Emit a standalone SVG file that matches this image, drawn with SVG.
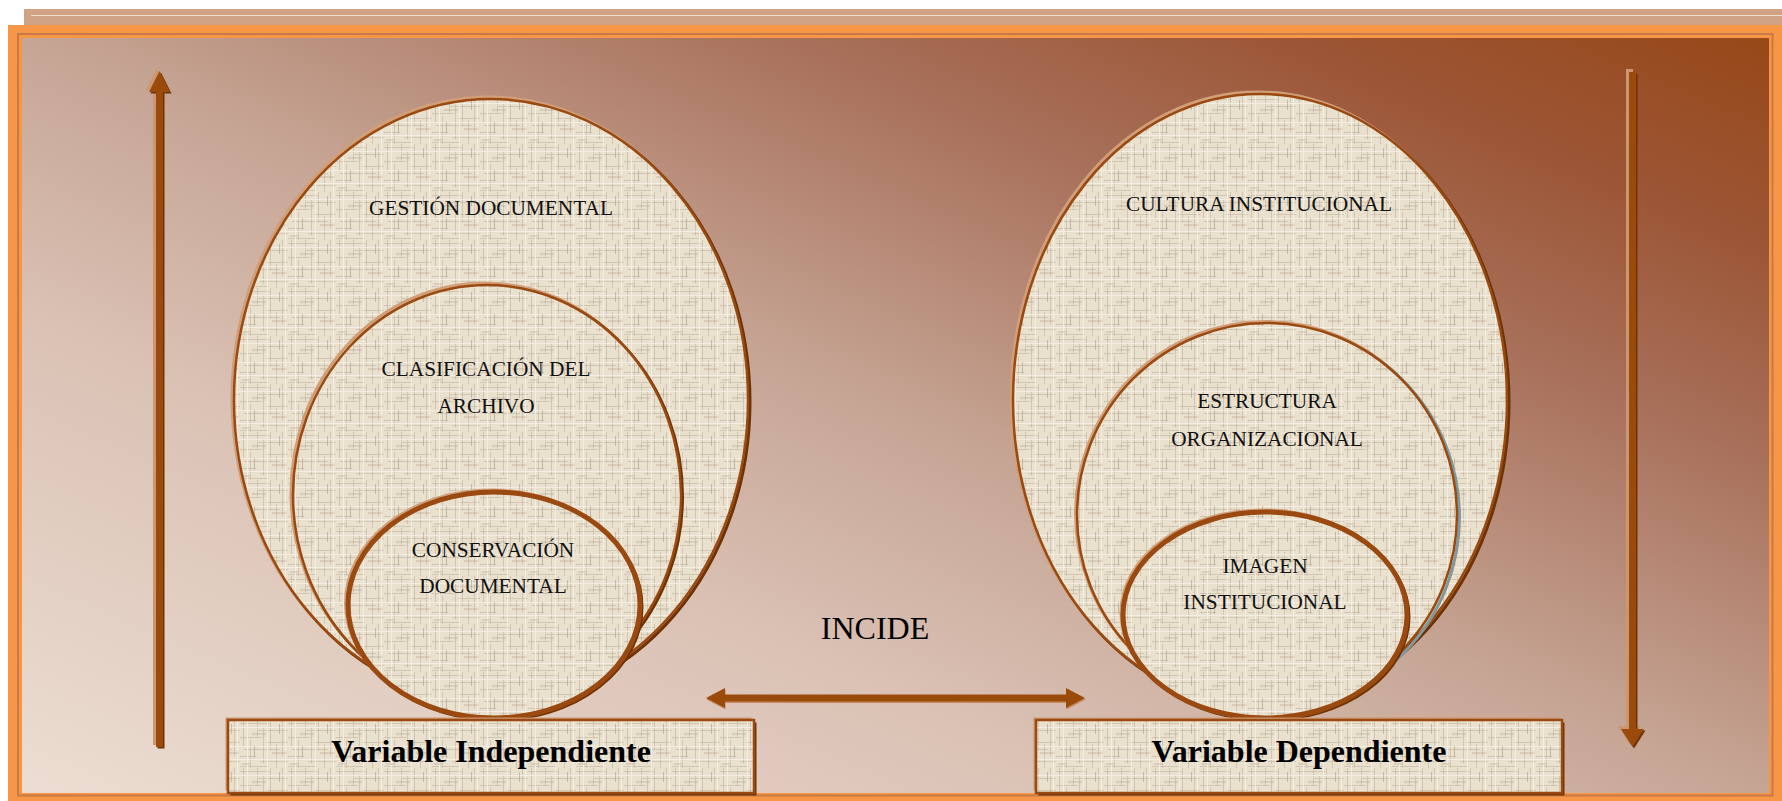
<svg xmlns="http://www.w3.org/2000/svg" xmlns:xlink="http://www.w3.org/1999/xlink" width="1782" height="801" viewBox="0 0 1782 801">
<style>
.lbl{font-family:"Liberation Serif","Times New Roman",serif;font-size:21.3px;fill:#111;text-anchor:middle}
.big{font-family:"Liberation Serif","Times New Roman",serif;font-size:32px;fill:#000;text-anchor:middle}
.bold{font-weight:bold}
.st{fill:url(#tex);stroke:#9A4A10;stroke-width:2.5}
.stk{fill:url(#tex);stroke:#9A4A10;stroke-width:5}
.hl{fill:none;stroke:#D29E78;stroke-width:3}
.sh{fill:none;stroke:#6E3204;stroke-width:3}
.arr{fill:#9A4A0B}
.arrl{fill:#CC9670}
.arrd{fill:#6E3305}
</style>
<defs>
<linearGradient id="bg" x1="0" y1="1" x2="1" y2="0">
<stop offset="0" stop-color="#ECDDD2"/>
<stop offset="0.32" stop-color="#DAC1B4"/>
<stop offset="0.5" stop-color="#C6A595"/>
<stop offset="0.72" stop-color="#A8705A"/>
<stop offset="0.86" stop-color="#9C5636"/>
<stop offset="1" stop-color="#974818"/>
</linearGradient>
<pattern id="tex" width="48" height="48" patternUnits="userSpaceOnUse">
<rect width="48" height="48" fill="#E9E0CD"/>
<path d="M0 3.5H30M18 10.5H48M0 17.5H22M26 22.5H48M4 29.5H40M0 36.5H16M20 41.5H48M0 46.5H28" stroke="#C4B9A2" stroke-width="1" opacity="0.65"/>
<path d="M3.5 0V26M10.5 20V48M17.5 0V18M23.5 8V44M30.5 0V30M36.5 24V48M42.5 0V36" stroke="#C4B9A2" stroke-width="1" opacity="0.65"/>
<path d="M0 7.5H48M0 26.5H48M0 39.5H48M7.5 0V48M27.5 0V48M45.5 0V48" stroke="#F6F1E6" stroke-width="1" opacity="0.85"/>
<path d="M12 14H26M32 33H46M2 44H10M14.5 26V38M39.5 4V14" stroke="#9E947F" stroke-width="1" opacity="0.5"/>
</pattern>
<path id="upArrow" d="M156,92 H149 L159.5,71 L170,92 H163 V747 H156 Z"/>
<path id="downArrow" d="M1629,72 H1636 V729 H1644 L1632.5,747 L1621,729 H1629 Z"/>
<path id="biArrow" d="M706,698 L725,688 V694.5 H1066 V688 L1085,698 L1066,708 V701.5 H725 V708 Z"/>
</defs>

<g id="frame">
<rect x="24" y="9" width="1758" height="16" fill="#CFA384"/>
<line x1="31" y1="15.5" x2="1782" y2="15.5" stroke="#F2DCCB" stroke-width="1"/>
<rect x="8" y="25" width="1774" height="776" fill="#F79646"/>
<rect x="18" y="34" width="1754.5" height="761.5" fill="none" stroke="#C77A47" stroke-width="2"/>
<rect x="22" y="38" width="1747" height="755" fill="url(#bg)"/>
</g>

<g id="node-gestion">
<ellipse class="hl" cx="489" cy="398" rx="257" ry="301"/>
<ellipse class="sh" cx="493" cy="402" rx="257" ry="301"/>
<ellipse class="st" cx="491" cy="400" rx="257" ry="301"/>
<text class="lbl" x="491" y="215">GESTIÓN DOCUMENTAL</text>
</g>

<g id="node-clasificacion">
<ellipse class="hl" cx="485" cy="493" rx="194" ry="210"/>
<ellipse class="sh" cx="488.5" cy="496.5" rx="194" ry="210"/>
<ellipse class="st" cx="487" cy="495" rx="194" ry="210"/>
<text class="lbl" x="486" y="376">CLASIFICACIÓN DEL</text>
<text class="lbl" x="486" y="413">ARCHIVO</text>
</g>

<g id="node-conservacion">
<ellipse class="hl" cx="491.5" cy="603" rx="146" ry="113" stroke-width="5"/>
<ellipse class="sh" cx="496" cy="607" rx="146" ry="113" stroke-width="5"/>
<ellipse class="stk" cx="494" cy="605" rx="146" ry="113"/>
<text class="lbl" x="493" y="557">CONSERVACIÓN</text>
<text class="lbl" x="493" y="593">DOCUMENTAL</text>
</g>

<g id="node-cultura">
<ellipse class="hl" cx="1258" cy="398" rx="247" ry="306"/>
<ellipse class="sh" cx="1262" cy="402" rx="247" ry="306"/>
<ellipse class="st" cx="1260" cy="400" rx="247" ry="306"/>
<text class="lbl" x="1259" y="211">CULTURA INSTITUCIONAL</text>
</g>

<g id="node-estructura">
<ellipse class="hl" cx="1265.5" cy="513.5" rx="190" ry="192"/>
<ellipse fill="none" stroke="#7E9AA0" stroke-width="3" cx="1269.5" cy="517" rx="190" ry="192"/>
<ellipse class="st" cx="1267" cy="515" rx="190" ry="192"/>
<text class="lbl" x="1267" y="408">ESTRUCTURA</text>
<text class="lbl" x="1267" y="446">ORGANIZACIONAL</text>
</g>

<g id="node-imagen">
<ellipse class="hl" cx="1263" cy="613" rx="142" ry="103" stroke-width="5"/>
<ellipse class="sh" cx="1267" cy="617" rx="142" ry="103" stroke-width="5"/>
<ellipse class="stk" cx="1265" cy="615" rx="142" ry="103"/>
<text class="lbl" x="1265" y="573">IMAGEN</text>
<text class="lbl" x="1265" y="609">INSTITUCIONAL</text>
</g>

<g id="node-var-independiente">
<rect x="225.5" y="717.5" width="526" height="73" fill="#CC9870"/>
<rect x="230.5" y="722.5" width="526" height="73" fill="#6E3204"/>
<rect x="228" y="720" width="526" height="73" class="st"/>
<text class="big bold" x="491" y="762">Variable Independiente</text>
</g>

<g id="node-var-dependiente">
<rect x="1033.5" y="717.5" width="526" height="73" fill="#CC9870"/>
<rect x="1038.5" y="722.5" width="526" height="73" fill="#6E3204"/>
<rect x="1036" y="720" width="526" height="73" class="st"/>
<text class="big bold" x="1299" y="762">Variable Dependiente</text>
</g>

<g id="connectors">
<use xlink:href="#upArrow" class="arrl" transform="translate(-3,-2)"/>
<use xlink:href="#upArrow" class="arrd" transform="translate(1.5,1.5)"/>
<use xlink:href="#upArrow" class="arr"/>
<use xlink:href="#downArrow" class="arrl" transform="translate(-3,-3)"/>
<use xlink:href="#downArrow" class="arrd" transform="translate(1.5,1.5)"/>
<use xlink:href="#downArrow" class="arr"/>
<use xlink:href="#biArrow" fill="#C58A60" transform="translate(0.5,1.5)"/>
<use xlink:href="#biArrow" class="arr"/>
<text class="big" x="875" y="639">INCIDE</text>
</g>
</svg>
